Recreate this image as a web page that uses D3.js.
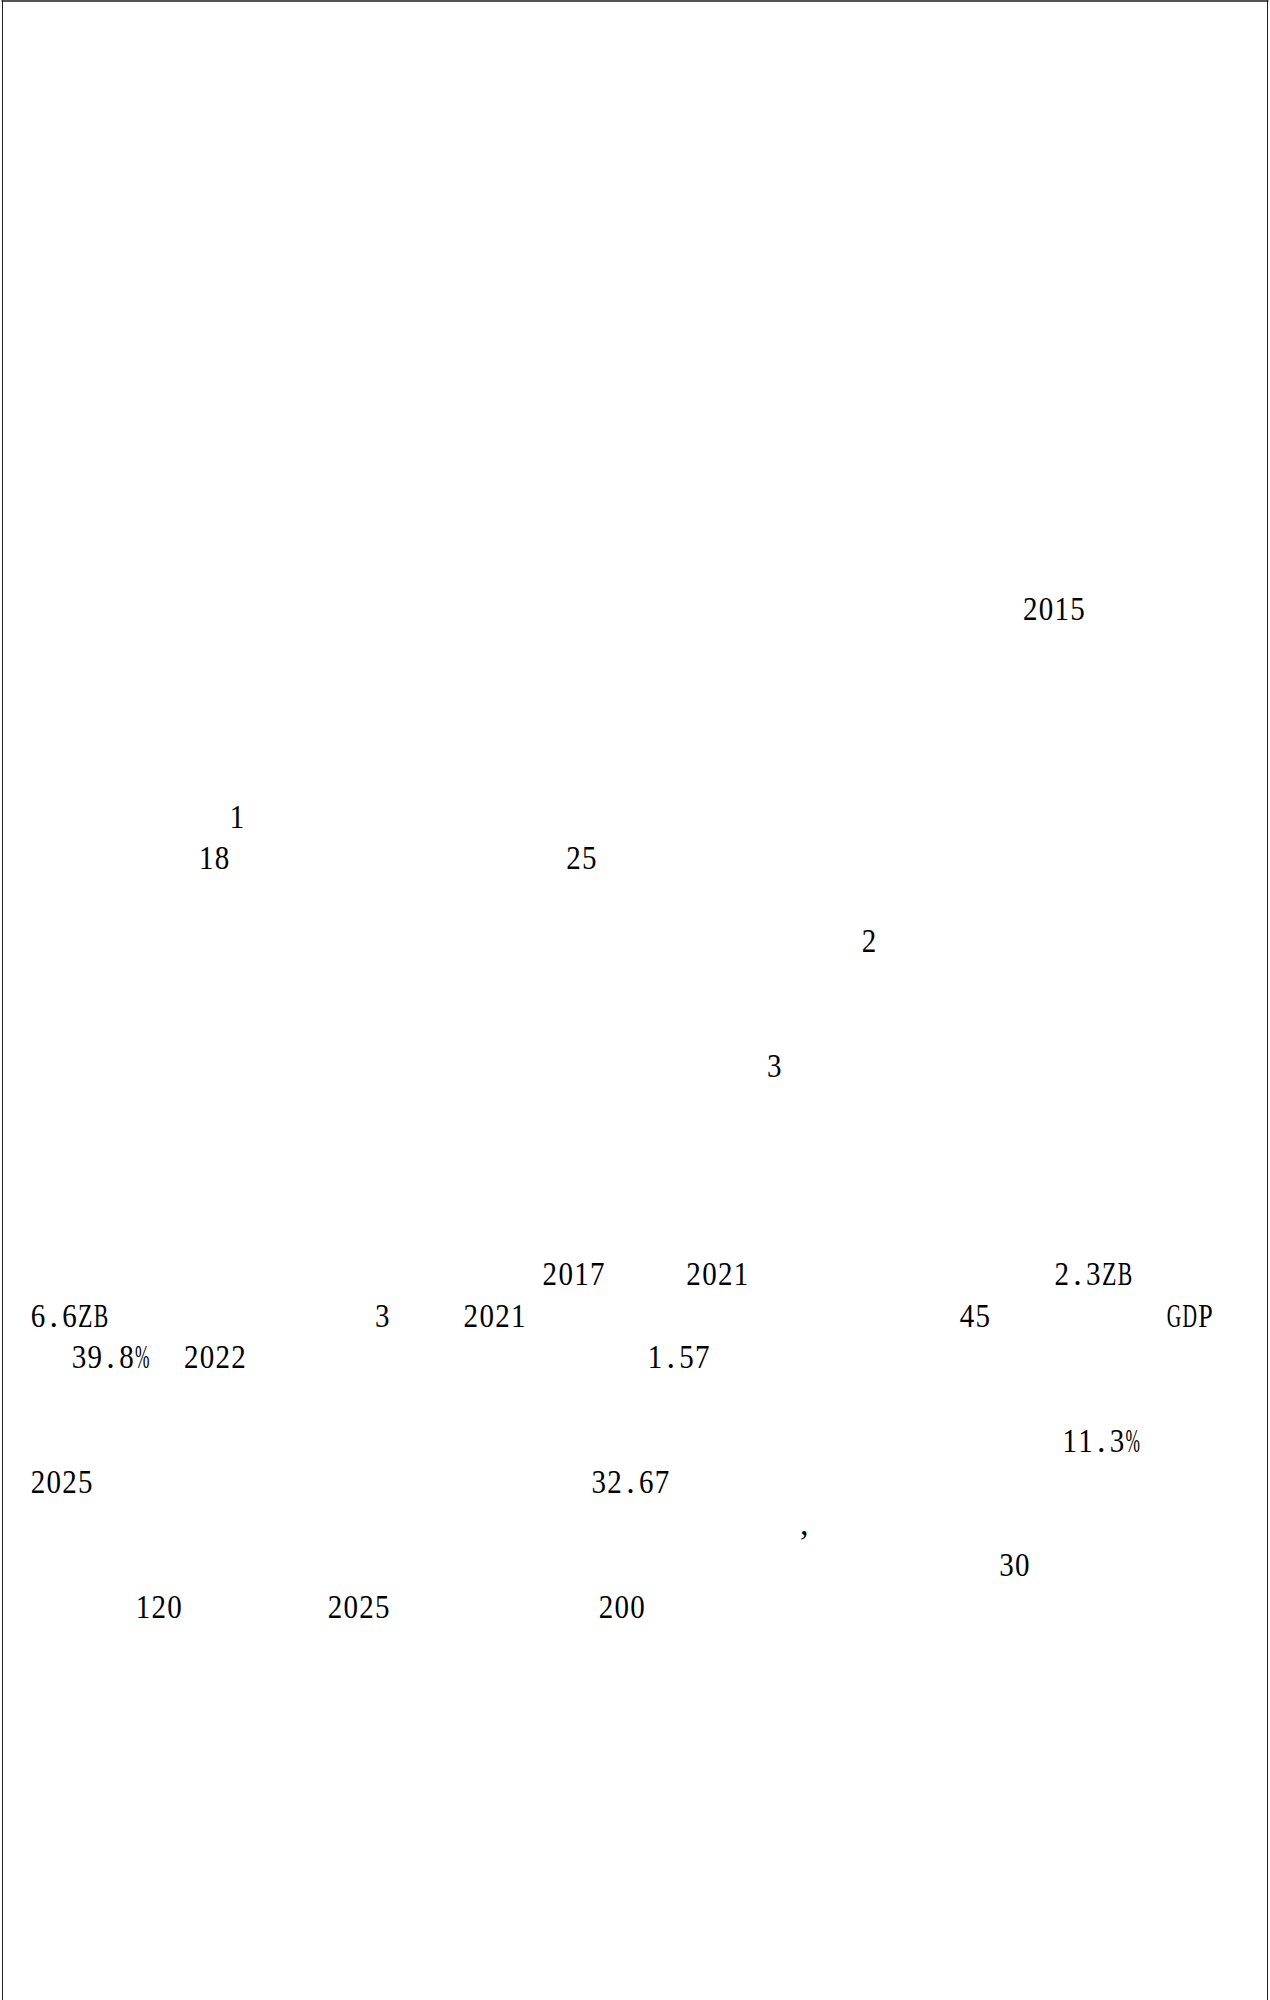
<!DOCTYPE html>
<html lang="zh">
<head>
  <meta charset="UTF-8">
  <title>Page</title>
  <script src="https://d3js.org/d3.v7.min.js"></script>
  <style>
    body { margin: 0; background: #fff; }
    svg { display: block; }
    .frag text { font-family: "Liberation Serif", "DejaVu Serif", serif; fill: #000; }
  </style>
</head>
<body>
<svg id="svg"></svg>
<script>
// fragments that survive on the page, line number and column (half-width cells)
const fragments = ["2015", "1", "18", "25", "2", "3",
  "2017", "2021", "2.3ZB",
  "6.6ZB", "3", "2021", "45", "GDP",
  "39.8%", "2022", "1.57",
  "11.3%",
  "2025", "32.67",
  ",",
  "30",
  "120", "2025", "200"];
const fragLine = [0, 5, 6, 6, 8, 11,
  16, 16, 16,
  17, 17, 17, 17, 17,
  18, 18, 18,
  20,
  21, 21,
  22,
  23,
  24, 24, 24];
const fragCol = [62.8, 12.6, 10.65, 33.9, 52.6, 46.6,
  32.4, 41.5, 64.8,
  0, 21.8, 27.4, 58.8, 71.9,
  2.6, 9.7, 39.05,
  65.3,
  0, 35.5,
  48.5,
  61.3,
  6.65, 18.8, 35.95];

const width = 1270, height = 2000;
const cell = 15.8;      // half-width character cell
const pitch = 41.6;     // line pitch
const fontSize = 34;

const svg = d3.select("#svg").attr("width", width).attr("height", height);

svg.append("rect").attr("width", width).attr("height", height).attr("fill", "#fff");

// page frame: top edge heavier, no bottom edge
svg.append("line").attr("x1", 1.5).attr("x2", 1268.5).attr("y1", 1).attr("y2", 1)
  .attr("stroke", "#555").attr("stroke-width", 2);
svg.append("line").attr("x1", 2.5).attr("x2", 2.5).attr("y1", 0).attr("y2", height)
  .attr("stroke", "#222").attr("stroke-width", 1);
svg.append("line").attr("x1", 1267.5).attr("x2", 1267.5).attr("y1", 0).attr("y2", height)
  .attr("stroke", "#222").attr("stroke-width", 1);

var x = d3.scaleLinear().domain([0, 80]).range([30, 30 + cell * 80]);
var y = d3.scaleLinear().domain([0, 24]).range([608, 608 + pitch * 24]);

// one glyph per cell, like a CJK font with half-width latin
const chars = [];
fragments.forEach((f, i) => {
  f.split("").forEach((ch, j) => {
    chars.push({ ch: ch, col: fragCol[i] + j, line: fragLine[i] });
  });
});

const g = svg.append("g").attr("class", "frag");
const t = g.selectAll("text")
  .data(chars)
  .join("text")
  .attr("text-anchor", "middle")
  .attr("font-size", fontSize)
  .text(d => d.ch);

t.each(function(d) {
  var w = this.getBBox().width;
  var sx = Math.min(0.9, 14.5 / Math.max(w, 1));
  if (d.ch == "." || d.ch == ",") sx = 1;
  var cx = x(d.col) + cell / 2;
  var by = y(d.line) + 11.5;
  d3.select(this).attr("transform", `translate(${cx},${by}) scale(${sx},1)`);
});
</script>
</body>
</html>
